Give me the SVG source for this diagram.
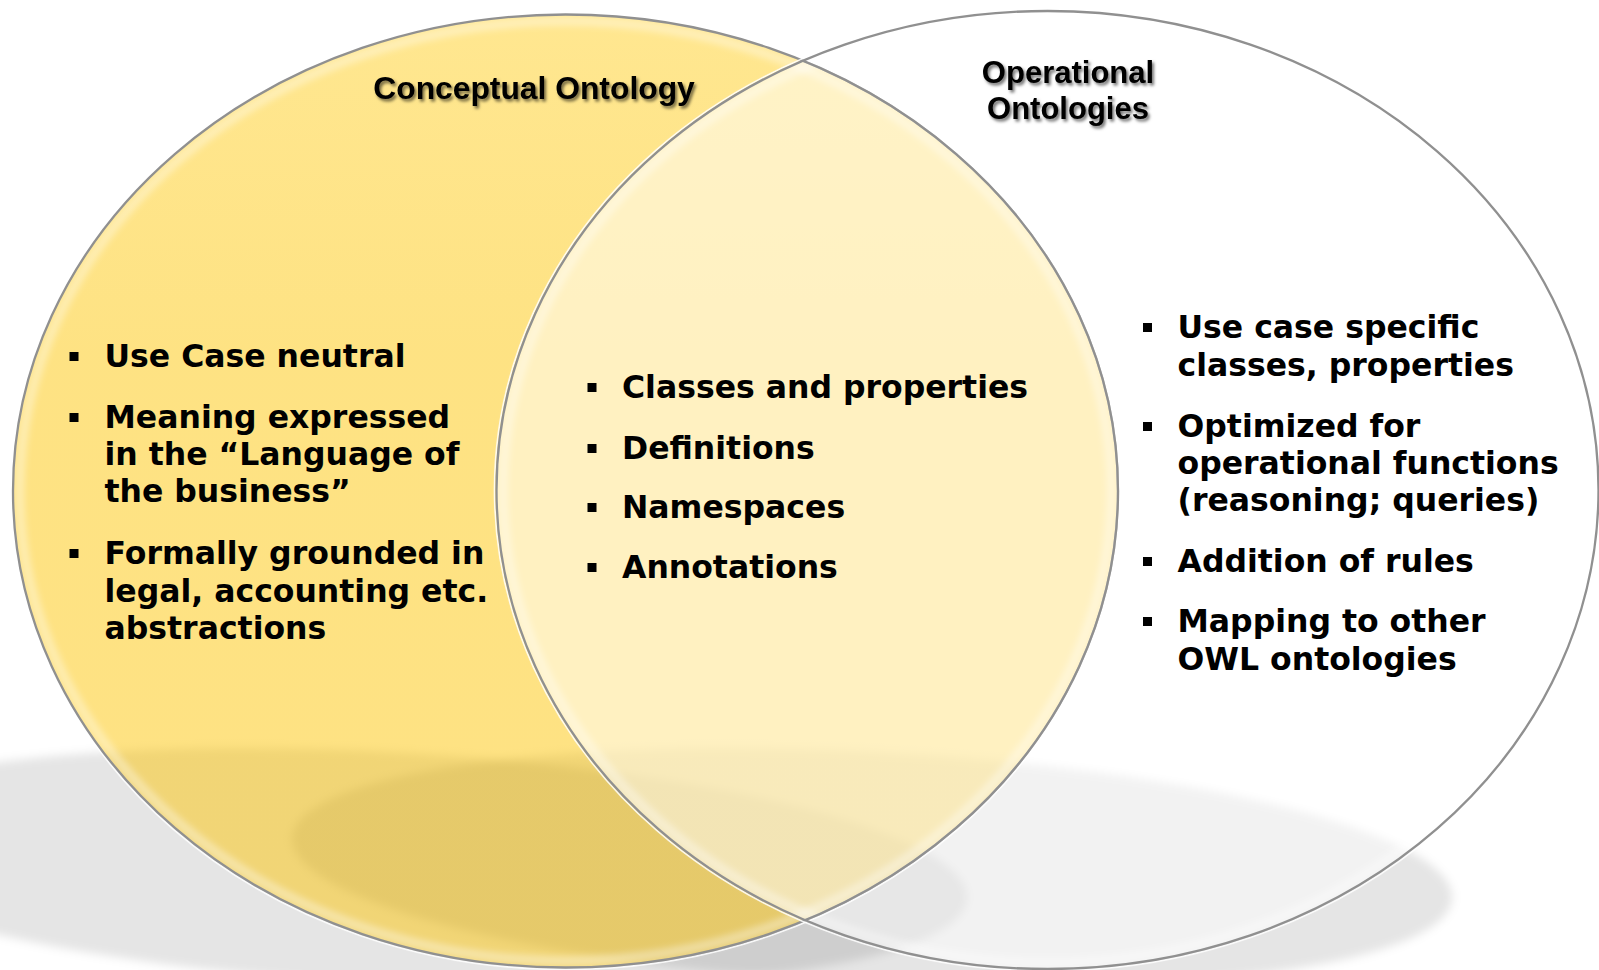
<svg xmlns="http://www.w3.org/2000/svg" width="1599" height="970" viewBox="0 0 1599 970">
<defs>
  <filter id="blur" x="-20%" y="-60%" width="140%" height="220%">
    <feGaussianBlur stdDeviation="5"/>
  </filter>
  <filter id="soft" x="-5%" y="-5%" width="110%" height="110%">
    <feGaussianBlur stdDeviation="3"/>
  </filter>
  <filter id="tshadow" x="-10%" y="-40%" width="120%" height="180%">
    <feDropShadow dx="2" dy="2.5" stdDeviation="1.4" flood-color="#000" flood-opacity="0.55"/>
  </filter>
  <linearGradient id="gold" x1="0" y1="0" x2="0" y2="1">
    <stop offset="0" stop-color="#FFCF22"/>
    <stop offset="0.35" stop-color="#FDC608"/>
    <stop offset="1" stop-color="#FDC507"/>
  </linearGradient>
  <clipPath id="rightClip">
    <ellipse cx="1047.5" cy="490" rx="551" ry="479"/>
  </clipPath>
  <rect id="bullet" width="9" height="9" fill="#000"/>
</defs>
<style>
  .t{font-family:"DejaVu Sans",Verdana,sans-serif;font-weight:bold;font-size:31.5px;fill:#000}
  .h{font-family:"Liberation Sans",Arial,sans-serif;font-weight:bold;font-size:31px;fill:#000;text-anchor:middle}
  .edge{fill:none;stroke:#909090;stroke-width:2.3}
  .glow{fill:none;stroke:#ffffff;stroke-width:1.6;stroke-opacity:0.85}
  .bevel{fill:none;stroke:#ffffff;stroke-width:10;stroke-opacity:0.35}
</style>

<rect width="1599" height="970" fill="#ffffff"/>

<g id="floor-shadow" filter="url(#blur)">
  <ellipse cx="387" cy="868" rx="581" ry="116" transform="rotate(3 387 868)" fill="#000" fill-opacity="0.1"/>
  <ellipse cx="872" cy="868" rx="581" ry="116" transform="rotate(3 872 868)" fill="#000" fill-opacity="0.1"/>
</g>

<g id="conceptual">
  <ellipse class="glow" cx="565.5" cy="491" rx="554.5" ry="478.5"/>
  <ellipse cx="565.5" cy="491" rx="552.5" ry="476.5" fill="url(#gold)" fill-opacity="0.5"/>
  <ellipse class="bevel" cx="565.5" cy="491" rx="546" ry="470" filter="url(#soft)"/>
  <ellipse class="edge" cx="565.5" cy="491" rx="552.5" ry="476.5"/>
  <text class="h" x="534" y="99" style="font-size:31.8px" filter="url(#tshadow)">Conceptual Ontology</text>
  <use href="#bullet" x="69.5" y="352"/>
  <text class="t" x="104.5" y="367">Use Case neutral</text>
  <use href="#bullet" x="69.5" y="413"/>
  <text class="t" x="104.5" y="428">Meaning expressed</text>
  <text class="t" x="104.5" y="465">in the “Language of</text>
  <text class="t" x="104.5" y="502">the business”</text>
  <use href="#bullet" x="69.5" y="549"/>
  <text class="t" x="104.5" y="564">Formally grounded in</text>
  <text class="t" x="104.5" y="601.5">legal, accounting etc.</text>
  <text class="t" x="104.5" y="639">abstractions</text>
</g>

<g id="operational">
  <ellipse class="glow" cx="1047.5" cy="490" rx="553" ry="481"/>
  <ellipse cx="1047.5" cy="490" rx="551" ry="479" fill="#ffffff" fill-opacity="0.5"/>
  <ellipse class="bevel" cx="1047.5" cy="490" rx="544.5" ry="472.5" filter="url(#soft)"/>
  <ellipse class="edge" cx="1047.5" cy="490" rx="551" ry="479"/>
  <text class="h" x="1068" y="83" filter="url(#tshadow)">Operational</text>
  <text class="h" x="1068" y="119" filter="url(#tshadow)">Ontologies</text>
  <use href="#bullet" x="1143" y="323"/>
  <text class="t" x="1177.5" y="338">Use case specific</text>
  <text class="t" x="1177.5" y="376">classes, properties</text>
  <use href="#bullet" x="1143" y="422"/>
  <text class="t" x="1177.5" y="437">Optimized for</text>
  <text class="t" x="1177.5" y="474">operational functions</text>
  <text class="t" x="1177.5" y="511">(reasoning; queries)</text>
  <use href="#bullet" x="1143" y="557"/>
  <text class="t" x="1177.5" y="572">Addition of rules</text>
  <use href="#bullet" x="1143" y="617"/>
  <text class="t" x="1177.5" y="632">Mapping to other</text>
  <text class="t" x="1177.5" y="670">OWL ontologies</text>
</g>

<g id="shared">
  <ellipse class="edge" cx="565.5" cy="491" rx="552.5" ry="476.5" clip-path="url(#rightClip)"/>
  <use href="#bullet" x="587.5" y="383"/>
  <text class="t" x="622" y="398">Classes and properties</text>
  <use href="#bullet" x="587.5" y="444"/>
  <text class="t" x="622" y="459">Definitions</text>
  <use href="#bullet" x="587.5" y="503"/>
  <text class="t" x="622" y="518">Namespaces</text>
  <use href="#bullet" x="587.5" y="563"/>
  <text class="t" x="622" y="578">Annotations</text>
</g>
</svg>
